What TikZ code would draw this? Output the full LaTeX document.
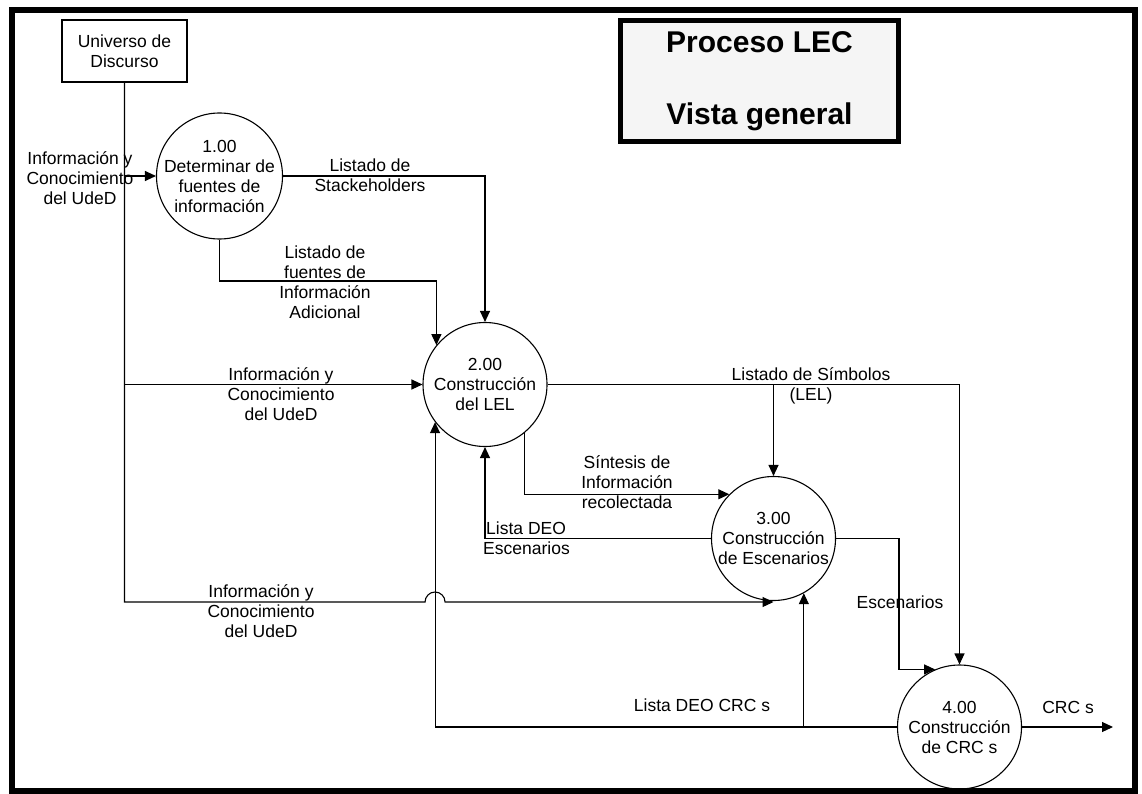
\documentclass[tikz,border=0pt]{standalone}
\usepackage{fontspec}
\setmainfont{Liberation Sans}
\usetikzlibrary{arrows.meta}
\begin{document}
\begin{tikzpicture}[x=1pt,y=-1pt,
  line/.style={line width=1.1pt},
  flow/.style={line, -{Triangle[length=11pt,width=10pt]}},
  txt/.style={font=\fontsize{17.5}{20}\selectfont, align=center, inner sep=0pt},
  proc/.style={draw, line width=1.1pt, circle, minimum size=124pt, inner sep=0pt},
  ent/.style={draw, line width=1.1pt, minimum width=125pt, minimum height=62pt,
    inner sep=0pt, align=center, font=\fontsize{17.5}{20}\selectfont},
  ttl/.style={draw, line width=5pt, fill=black!4, minimum width=278pt,
    minimum height=121pt, inner sep=0pt, align=center,
    font=\fontsize{30}{36}\selectfont\bfseries}
]
\useasboundingbox (0,0) rectangle (1142,794);

% outer frame
\draw[line width=6pt] (11.5,10) rectangle (1135,790.5);

% title block
\node[ttl] (title) at (759.5,81) {Proceso LEC\\[36pt]Vista general};

% external entity
\node[ent] (ud) at (124.5,51) {Universo de\\Discurso};

% processes
\node[proc, minimum size=126pt, label={[txt]center:{1.00\\Determinar de\\fuentes de\\información}}] (p1) at (219.5,176) {};
\node[proc, label={[txt]center:{2.00\\Construcción\\del LEL}}] (p2) at (485,384.5) {};
\node[proc, label={[txt]center:{3.00\\Construcción\\de Escenarios}}] (p3) at (773.5,538.5) {};
\node[proc, label={[txt]center:{4.00\\Construcción\\de CRC s}}] (p4) at (959.5,727) {};

% helper coordinates
\coordinate (trunk) at (0,602);
\coordinate (fuentes) at (0,281);
\coordinate (esc) at (899,0);
\coordinate (hop) at (p2.-143.7 |- trunk);
\coordinate (out) at (1113,727);

% flows from the universe of discourse
\draw[flow] (ud.south) -- (ud.south |- trunk) -- ([xshift=-10pt]hop)
  arc[start angle=180, end angle=360, radius=10] -- (p3.south |- trunk);
\draw[flow] (ud.south |- p1) -- (p1.west);
\draw[flow] (ud.south |- p2) -- (p2.west);

% 1.00 -> 2.00
\draw[flow] (p1.east) -- (p2.north |- p1.east) -- (p2.north);
\draw[flow] (p1.south) |- (p2.141 |- fuentes) -- (p2.141);

% 2.00 -> 3.00 / 4.00
\draw[flow] (p2.east) -- (p4.north |- p2.east) -- (p4.north);
\draw[flow] (p3.north |- p2.east) -- (p3.north);
\draw[flow] (p2.-51) |- (p3.135.4);

% 3.00 -> 2.00 / 4.00
\draw[flow] (p3.west) -- (p2.south |- p3.west) -- (p2.south);
\draw[flow] (p3.east) -| (esc |- p4.113.2) -- (p4.113.2);

% 4.00 -> 2.00 / 3.00 / out
\draw[flow] (p4.west) -| (p2.-143.7);
\draw[flow] (p3.-61.6 |- p4.west) -- (p3.-61.6);
\draw[flow] (p4.east) -- (out);

% flow labels
\node[txt] (l0) at (80,178) {Información y\\Conocimiento\\del UdeD};
\node[txt] (l1) at (370,175) {Listado de\\Stackeholders};
\node[txt] (l2) at (325,282) {Listado de\\fuentes de\\Información\\Adicional};
\node[txt] (l3) at (281,394) {Información y\\Conocimiento\\del UdeD};
\node[txt] (l4) at (261,611) {Información y\\Conocimiento\\del UdeD};
\node[txt] (l5) at (811,386) {Listado de Símbolos\\(LEL)};
\node[txt] (l6) at (627,482) {Síntesis de\\Información\\recolectada};
\node[txt, align=left, anchor=west] (l7) at (483,538) {\hspace*{3pt}Lista DEO\\Escenarios};
\node[txt] (l8) at (900,602) {Escenarios};
\node[txt] (l9) at (702,705) {Lista DEO CRC s};
\node[txt] (l10) at (1068,707) {CRC s};
\end{tikzpicture}
\end{document}
